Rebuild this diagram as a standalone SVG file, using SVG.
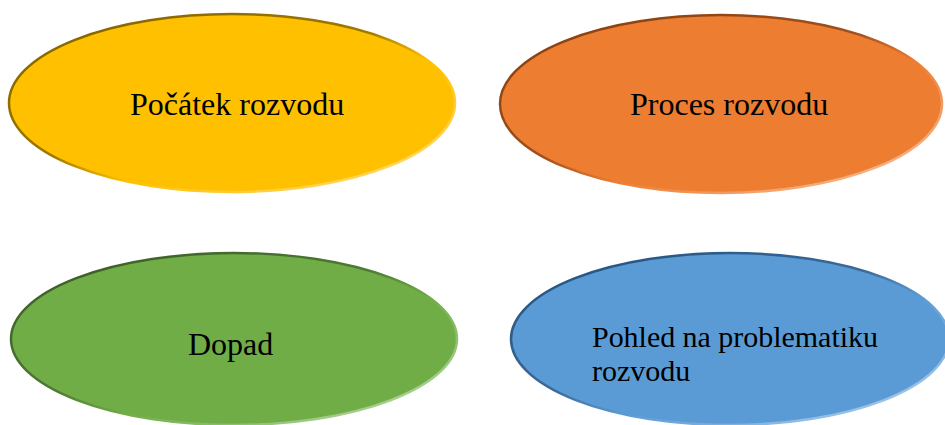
<svg xmlns="http://www.w3.org/2000/svg" width="945" height="425" viewBox="0 0 945 425">
<defs>
<linearGradient id="gY" x1="0" y1="0" x2="1" y2="1"><stop offset="0" stop-color="#7F6000"/><stop offset="0.45" stop-color="#A07800"/><stop offset="0.6" stop-color="#FFC000"/><stop offset="1" stop-color="#FFE08A"/></linearGradient>
<linearGradient id="gO" x1="0" y1="0" x2="1" y2="1"><stop offset="0" stop-color="#843C0C"/><stop offset="0.45" stop-color="#A0501E"/><stop offset="0.6" stop-color="#ED7D31"/><stop offset="1" stop-color="#F8CBAD"/></linearGradient>
<linearGradient id="gG" x1="0" y1="0" x2="1" y2="1"><stop offset="0" stop-color="#385723"/><stop offset="0.45" stop-color="#4E7A33"/><stop offset="0.6" stop-color="#70AD47"/><stop offset="1" stop-color="#C5E0B4"/></linearGradient>
<linearGradient id="gB" x1="0" y1="0" x2="1" y2="1"><stop offset="0" stop-color="#1F4E79"/><stop offset="0.45" stop-color="#3A6A98"/><stop offset="0.6" stop-color="#5B9BD5"/><stop offset="1" stop-color="#BDD7EE"/></linearGradient>
</defs>
<style>
.lbl{font-family:"Liberation Serif","Times New Roman",serif;font-size:32px;fill:#000}
.sm{font-size:30px}
ellipse{stroke-width:2.5}
</style>
<g id="connectors"></g>
<g id="n1">
<ellipse cx="232" cy="103" rx="223" ry="89" fill="#FFC000" stroke="url(#gY)"/>
<text class="lbl" x="130" y="115">Počátek rozvodu</text>
</g>
<g id="n2">
<ellipse cx="721" cy="104" rx="221" ry="89" fill="#ED7D31" stroke="url(#gO)"/>
<text class="lbl" x="630" y="115">Proces rozvodu</text>
</g>
<g id="n3">
<ellipse cx="234" cy="339" rx="223" ry="86" fill="#70AD47" stroke="url(#gG)"/>
<text class="lbl" x="188" y="355">Dopad</text>
</g>
<g id="n4">
<ellipse cx="730" cy="339" rx="219" ry="86" fill="#5B9BD5" stroke="url(#gB)"/>
<text class="lbl sm" x="592" y="347" textLength="286">Pohled na problematiku</text>
<text class="lbl sm" x="592" y="381">rozvodu</text>
</g>
</svg>
